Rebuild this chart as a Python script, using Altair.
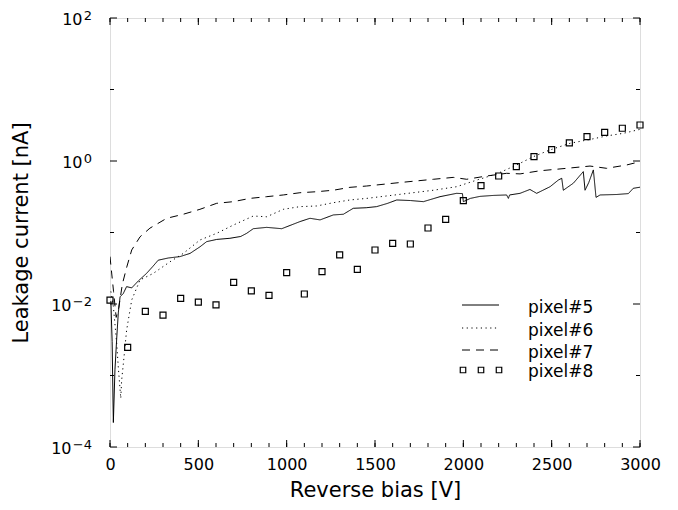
import altair as alt
import pandas as pd

# ---------------- data ----------------
series_names = ["pixel#5", "pixel#6", "pixel#7", "pixel#8"]

p5_x = [5, 12, 19, 28, 38, 47, 57, 75, 94, 123, 160, 207, 240, 273, 330, 396, 453, 509, 547, 604,
        679, 740, 774, 811, 887, 972, 1075, 1132, 1189, 1264, 1321, 1377, 1450, 1509, 1570, 1623,
        1700, 1774, 1868, 1962, 1995, 2000, 2040, 2094, 2170, 2245, 2255, 2262, 2321, 2377, 2415,
        2491, 2538, 2557, 2566, 2623, 2679, 2689, 2710, 2736, 2751, 2774, 2868, 2934, 2962, 3000]
p5_y = [0.011, 0.003, 0.00022, 0.0012, 0.0033, 0.0075, 0.0126, 0.014, 0.0175, 0.0168, 0.021, 0.0268,
        0.033, 0.041, 0.044, 0.046, 0.051, 0.063, 0.0745, 0.080, 0.083, 0.088, 0.0975, 0.113, 0.118,
        0.113, 0.142, 0.158, 0.15, 0.176, 0.18, 0.218, 0.222, 0.23, 0.255, 0.285, 0.28, 0.27, 0.317,
        0.353, 0.35, 0.27, 0.30, 0.32, 0.33, 0.335, 0.30, 0.335, 0.353, 0.40, 0.353, 0.437, 0.542,
        0.573, 0.39, 0.49, 0.71, 0.39, 0.50, 0.75, 0.31, 0.335, 0.34, 0.35, 0.415, 0.43]

p6_x = [5, 19, 38, 47, 61, 66, 76, 94, 123, 170, 245, 340, 415, 509, 604, 698, 811, 887, 981, 1075,
        1170, 1264, 1358, 1453, 1642, 1830, 1962, 2075, 2189, 2302, 2396, 2491, 2604, 2717, 2811,
        2906, 3000]
p6_y = [0.015, 0.0092, 0.0028, 0.0013, 0.00048, 0.00086, 0.0015, 0.0043, 0.0114, 0.0217, 0.0268,
        0.039, 0.051, 0.0785, 0.0975, 0.127, 0.17, 0.166, 0.211, 0.23, 0.235, 0.261, 0.285, 0.30,
        0.342, 0.39, 0.437, 0.54, 0.66, 0.88, 1.15, 1.43, 1.77, 2.0, 2.24, 2.44, 2.77]

p7_x = [0, 20, 35, 50, 70, 95, 123, 170, 226, 321, 415, 509, 604, 698, 792, 887, 981, 1075, 1170,
        1264, 1358, 1453, 1642, 1830, 1943, 2019, 2132, 2245, 2321, 2434, 2585, 2717, 2811, 2925, 3000]
p7_y = [0.046, 0.015, 0.0065, 0.009, 0.019, 0.033, 0.057, 0.087, 0.115, 0.158, 0.18, 0.211, 0.256,
        0.27, 0.30, 0.317, 0.335, 0.36, 0.372, 0.39, 0.428, 0.447, 0.50, 0.555, 0.59, 0.555, 0.617,
        0.673, 0.66, 0.73, 0.79, 0.85, 0.79, 0.88, 0.98]

p8_x = list(range(0, 3001, 100))
p8_y = [0.0113, 0.00248, 0.0079, 0.0070, 0.012, 0.0106, 0.0097, 0.0201, 0.0153, 0.0132, 0.0274,
        0.0138, 0.0283, 0.0485, 0.0305, 0.0569, 0.0706, 0.069, 0.1156, 0.153, 0.279, 0.452, 0.617,
        0.834, 1.148, 1.44, 1.79, 2.19, 2.52, 2.87, 3.19]

x_tick_labels = [0, 500, 1000, 1500, 2000, 2500, 3000]
x_minor_ticks = list(range(0, 3001, 100))
y_major_ticks = [1e-4, 1e-2, 1, 1e2]
y_minor_ticks = [1e-3, 1e-1, 1e1]
y_exp_labels = ["\u22124", "\u22122", "0", "2"]

# ---------------- chart ----------------
W, H = 530, 429
FONT = "DejaVu Sans"

x_scale = alt.Scale(domain=[0, 3000], nice=False, zero=False)
y_scale = alt.Scale(type="log", domain=[1e-4, 1e2], nice=False)

x_axis = alt.Axis(values=x_tick_labels, format="d", labelFontSize=16, labelFont=FONT,
                  labelColor="black", ticks=False, domain=False, grid=False, labelPadding=9,
                  labelFlush=False, title="Reverse bias [V]", titleFontSize=21, titleFont=FONT,
                  titleFontWeight="normal", titleColor="black", titlePadding=7)
y_axis = alt.Axis(labels=False, ticks=False, domain=False, grid=False,
                  title="Leakage current [nA]", titleFontSize=21, titleFont=FONT,
                  titleFontWeight="normal", titleColor="black",
                  titleX=-83, titleY=H / 2, titleBaseline="alphabetic", titleAngle=270)


def X(field):
    return alt.X(field, type="quantitative", scale=x_scale, axis=x_axis)


def Y(field):
    return alt.Y(field, type="quantitative", scale=y_scale, axis=y_axis)


def line_layer(xs, ys, dash):
    df = pd.DataFrame({"x": xs, "y": ys})
    return alt.Chart(df).mark_line(color="black", strokeWidth=1, strokeDash=dash, clip=True).encode(
        x=X("x"), y=Y("y"))


l5 = line_layer(p5_x, p5_y, [1, 0])
l6 = line_layer(p6_x, p6_y, [1.2, 3.5])
l7 = line_layer(p7_x, p7_y, [8, 6])

sq = alt.Chart(pd.DataFrame({"x": p8_x, "y": p8_y})).mark_point(
    shape="square", size=36, filled=False, color="black", strokeWidth=1.2, opacity=1).encode(
    x=X("x"), y=Y("y"))

# inward ticks
xt_minor = pd.DataFrame({"t": x_minor_ticks})
xt_major = pd.DataFrame({"t": x_tick_labels})
yt_major = pd.DataFrame({"t": y_major_ticks})
yt_minor = pd.DataFrame({"t": y_minor_ticks})

tick_layers = []
for df, ln in [(xt_minor, 4), (xt_major, 7)]:
    tick_layers.append(alt.Chart(df).mark_rule(color="black", strokeWidth=1).encode(
        x=X("t"), y=alt.value(H), y2=alt.value(H - ln)))
    tick_layers.append(alt.Chart(df).mark_rule(color="black", strokeWidth=1).encode(
        x=X("t"), y=alt.value(0), y2=alt.value(ln)))
for df, ln in [(yt_minor, 4), (yt_major, 7)]:
    tick_layers.append(alt.Chart(df).mark_rule(color="black", strokeWidth=1).encode(
        y=Y("t"), x=alt.value(0), x2=alt.value(ln)))
    tick_layers.append(alt.Chart(df).mark_rule(color="black", strokeWidth=1).encode(
        y=Y("t"), x=alt.value(W), x2=alt.value(W - ln)))

# y tick labels: "10" with exponent
ylab = pd.DataFrame({"v": y_major_ticks, "base": ["10"] * 4, "exp": y_exp_labels})
base_pos = alt.Chart(ylab).transform_filter("datum.v >= 1").mark_text(
    align="right", baseline="middle", fontSize=16, font=FONT, color="black", dy=2).encode(
    y=Y("v"), x=alt.value(-27.5), text="base:N")
base_neg = alt.Chart(ylab).transform_filter("datum.v < 1").mark_text(
    align="right", baseline="middle", fontSize=16, font=FONT, color="black", dy=2).encode(
    y=Y("v"), x=alt.value(-38.5), text="base:N")
exps = alt.Chart(ylab).mark_text(
    align="right", baseline="middle", fontSize=13, font=FONT, color="black", dy=-2).encode(
    y=Y("v"), x=alt.value(-18), text="exp:N")

# legend
leg_rows_y = [290, 313, 335, 354]
leg_layers = []
dashes = [[1, 0], [1.2, 3.5], [8, 6]]
for i in range(3):
    leg_layers.append(alt.Chart(pd.DataFrame({"s": [series_names[i]]})).mark_rule(
        color="black", strokeWidth=1, strokeDash=dashes[i]).encode(
        x=alt.value(352), x2=alt.value(389), y=alt.value(leg_rows_y[i] - 3)))
for px in [353, 371, 389]:
    leg_layers.append(alt.Chart(pd.DataFrame({"s": [series_names[3]]})).mark_point(
        shape="square", size=30, filled=False, color="black", strokeWidth=1.2, opacity=1).encode(
        x=alt.value(px), y=alt.value(leg_rows_y[3] - 2)))
for i in range(4):
    leg_layers.append(alt.Chart(pd.DataFrame({"s": [series_names[i]]})).mark_text(
        align="left", baseline="middle", fontSize=17, font=FONT, color="black").encode(
        x=alt.value(418), y=alt.value(leg_rows_y[i]), text="s:N"))

chart = alt.layer(l7, l6, l5, sq, *tick_layers, base_pos, base_neg, exps, *leg_layers).properties(
    width=W, height=H,
    autosize=alt.AutoSizeParams(type="none"),
    padding={"left": 102, "top": 10, "right": 30, "bottom": 55},
).configure_view(stroke="black", strokeWidth=1.5).configure(background="white")

chart.save("out.html", embed_options={"renderer": "svg", "actions": False})
